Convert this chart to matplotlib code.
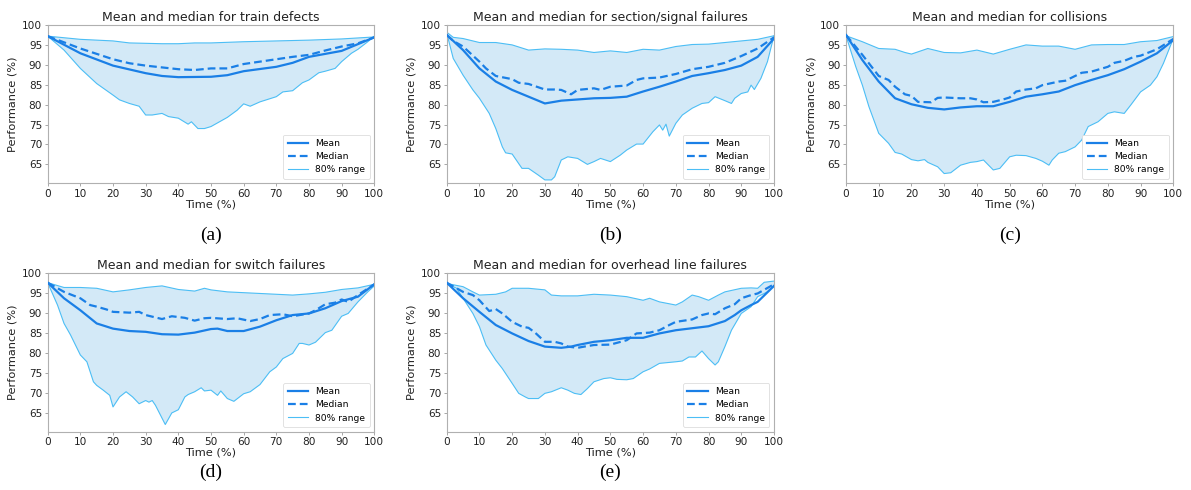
import numpy as np
import matplotlib
matplotlib.use("Agg")
import matplotlib.pyplot as plt

# ---------------- data ----------------
titles = ["Mean and median for train defects",
          "Mean and median for section/signal failures",
          "Mean and median for collisions",
          "Mean and median for switch failures",
          "Mean and median for overhead line failures"]
captions = ["(a)", "(b)", "(c)", "(d)", "(e)"]

# (a) train defects
a_mean_t = [0, 10, 20, 30, 35, 40, 50, 55, 60, 70, 75, 80, 90, 100]
a_mean_v = [97.2, 92.9, 89.8, 87.9, 87.2, 86.9, 87.0, 87.4, 88.4, 89.5, 90.5, 92.0, 93.5, 96.9]
a_med_t = [0, 10, 20, 25, 30, 40, 45, 50, 55, 60, 70, 75, 80, 85, 90, 95, 100]
a_med_v = [97.2, 94.1, 91.4, 90.4, 89.8, 88.9, 88.7, 89.1, 89.1, 90.2, 91.4, 92.0, 92.5, 93.6, 94.6, 95.4, 96.9]
a_up_t = [0, 10, 20, 25, 35, 40, 45, 50, 60, 70, 80, 90, 100]
a_up_v = [97.2, 96.4, 96.0, 95.5, 95.3, 95.3, 95.5, 95.5, 95.8, 96.0, 96.2, 96.5, 97.0]
a_lo_t = [0, 5, 10, 15, 20, 22, 25, 28, 30, 32, 35, 37, 40, 43, 44, 46, 48, 50, 55, 58, 60,
          62, 65, 70, 72, 75, 78, 80, 83, 85, 88, 90, 93, 95, 98, 100]
a_lo_v = [97.2, 93.7, 89.1, 85.3, 82.4, 81.2, 80.3, 79.6, 77.4, 77.4, 77.8, 77.0, 76.6, 75.1, 75.7,
          74.0, 74.0, 74.5, 76.8, 78.6, 80.2, 79.6, 80.7, 82.0, 83.2, 83.5, 85.5, 86.2, 88.0, 88.4,
          89.1, 90.8, 92.9, 93.9, 95.8, 97.2]

# (b) section/signal failures
b_mean_t = [0, 2, 5, 10, 15, 20, 25, 30, 35, 40, 45, 50, 55, 60, 65, 70, 75, 80, 85, 90, 95, 100]
b_mean_v = [97.5, 96.0, 93.7, 89.1, 85.8, 83.7, 82.0, 80.3, 81.0, 81.3, 81.6, 81.7, 82.0, 83.3,
            84.5, 85.8, 87.2, 87.9, 88.7, 89.8, 92.0, 96.6]
b_med_t = [0, 2, 5, 10, 12, 15, 20, 22, 25, 30, 33, 35, 38, 40, 45, 47, 50, 55, 58, 60, 65, 70,
           75, 80, 85, 90, 95, 100]
b_med_v = [97.5, 96.0, 94.6, 90.8, 89.1, 87.2, 86.4, 85.5, 85.2, 83.8, 83.8, 83.7, 82.6, 83.7,
           84.1, 83.7, 84.5, 84.8, 86.2, 86.6, 86.8, 87.7, 88.9, 89.5, 90.5, 92.2, 94.1, 96.9]
b_up_t = [0, 2, 5, 10, 15, 20, 25, 30, 35, 40, 45, 50, 55, 60, 65, 70, 75, 80, 85, 90, 95, 100]
b_up_v = [98.2, 96.9, 96.6, 95.6, 95.6, 95.0, 93.7, 94.0, 93.9, 93.7, 93.1, 93.5, 93.1, 93.9,
          93.7, 94.6, 95.1, 95.2, 95.6, 96.0, 96.4, 97.3]
b_lo_t = [0, 2, 5, 8, 10, 13, 15, 17, 18, 20, 23, 25, 28, 30, 32, 33, 35, 37, 40, 43, 45, 47, 50,
          53, 55, 58, 60, 63, 65, 66, 67, 68, 70, 72, 75, 78, 80, 82, 85, 87, 88, 90, 92, 93, 94,
          96, 98, 100]
b_lo_v = [98.0, 91.6, 87.4, 83.7, 81.6, 77.8, 74.0, 69.4, 67.9, 67.6, 64.0, 64.0, 62.3, 61.1,
          61.1, 61.9, 66.1, 66.9, 66.5, 65.0, 65.7, 66.5, 65.7, 67.3, 68.6, 70.1, 70.1, 73.2, 74.9,
          73.6, 75.1, 72.1, 75.3, 77.4, 79.1, 80.3, 80.5, 82.0, 81.0, 80.3, 81.6, 82.8, 83.2, 84.9,
          83.8, 86.6, 90.8, 97.3]

# (c) collisions
c_mean_t = [0, 5, 10, 15, 20, 25, 30, 35, 40, 45, 50, 55, 60, 65, 70, 75, 80, 85, 90, 95, 100]
c_mean_v = [97.5, 91.2, 85.8, 81.6, 80.1, 79.2, 78.8, 79.3, 79.6, 79.6, 80.7, 82.0, 82.6, 83.3,
            84.9, 86.2, 87.4, 88.9, 90.8, 92.9, 96.2]
c_med_t = [0, 5, 10, 13, 15, 18, 20, 22, 26, 28, 30, 35, 38, 40, 42, 45, 48, 50, 52, 55, 58, 60,
           65, 67, 70, 72, 75, 80, 82, 85, 88, 90, 95, 100]
c_med_v = [97.5, 92.5, 87.2, 86.2, 84.5, 82.6, 82.2, 80.7, 80.6, 81.7, 81.8, 81.6, 81.6, 81.3,
           80.6, 80.7, 81.3, 81.8, 83.3, 83.8, 84.1, 84.9, 85.8, 86.0, 87.2, 88.0, 88.3, 89.5,
           90.5, 91.0, 92.0, 92.3, 93.9, 96.5]
c_up_t = [0, 5, 10, 15, 18, 20, 25, 30, 35, 40, 45, 50, 55, 60, 65, 70, 75, 80, 85, 90, 95, 100]
c_up_v = [97.3, 95.8, 94.1, 93.9, 93.1, 92.7, 94.1, 93.1, 93.0, 93.7, 92.7, 93.9, 95.0, 94.7,
          94.7, 93.9, 95.0, 95.1, 95.1, 95.8, 96.1, 97.1]
c_lo_t = [0, 3, 5, 7, 10, 13, 15, 17, 20, 22, 24, 25, 28, 30, 32, 35, 38, 40, 42, 45, 47, 50, 52, 55,
          58, 60, 62, 63, 65, 67, 70, 72, 74, 77, 80, 82, 85, 87, 90, 93, 95, 97, 100]
c_lo_v = [97.3, 89.5, 84.9, 79.5, 72.8, 70.3, 68.0, 67.6, 66.2, 65.9, 66.2, 65.5, 64.4, 62.7, 62.9,
          64.8, 65.5, 65.7, 66.1, 63.6, 64.0, 66.9, 67.3, 67.2, 66.5, 65.8, 64.8, 66.1, 67.8, 68.2,
          69.4, 71.1, 74.5, 75.7, 77.8, 78.2, 77.8, 79.9, 83.2, 84.9, 87.0, 90.4, 96.6]

# (d) switch failures
d_mean_t = [0, 5, 10, 15, 20, 25, 30, 35, 40, 45, 50, 52, 55, 60, 65, 70, 75, 80, 85, 90, 95, 100]
d_mean_v = [97.5, 93.6, 90.6, 87.3, 86.0, 85.4, 85.2, 84.6, 84.5, 85.0, 85.9, 86.0, 85.4, 85.4,
            86.5, 88.1, 89.4, 89.8, 91.1, 92.9, 94.0, 97.1]
d_med_t = [0, 5, 10, 13, 15, 18, 20, 25, 28, 30, 35, 38, 42, 45, 48, 50, 55, 58, 62, 65, 68, 72,
           75, 80, 82, 85, 88, 90, 92, 95, 100]
d_med_v = [97.5, 95.2, 93.6, 91.9, 91.5, 90.8, 90.2, 90.0, 90.2, 89.4, 88.4, 89.1, 88.7, 88.0,
           88.6, 88.7, 88.4, 88.6, 87.9, 88.4, 89.4, 89.6, 89.1, 89.8, 90.6, 92.1, 92.5, 93.3,
           92.7, 94.4, 97.1]
d_up_t = [0, 5, 10, 15, 20, 25, 30, 35, 40, 45, 48, 50, 55, 60, 65, 70, 75, 80, 85, 90, 95, 100]
d_up_v = [97.5, 96.3, 96.3, 96.1, 95.2, 95.7, 96.3, 96.7, 95.8, 95.4, 96.1, 95.7, 95.2, 95.0,
          94.8, 94.6, 94.4, 94.7, 95.1, 95.8, 96.2, 97.1]
d_lo_t = [0, 3, 5, 7, 10, 12, 14, 15, 17, 19, 20, 22, 24, 26, 28, 30, 31, 32, 33, 34, 36, 38, 40,
          42, 43, 45, 47, 48, 50, 52, 53, 55, 57, 60, 62, 65, 68, 70, 72, 75, 77, 78, 80, 82, 85,
          87, 90, 92, 95, 98, 100]
d_lo_v = [97.5, 91.9, 87.3, 84.4, 79.4, 77.7, 72.7, 71.8, 70.6, 69.3, 66.4, 68.9, 70.2, 68.9,
          67.2, 68.0, 67.6, 68.0, 66.8, 65.2, 62.0, 64.9, 65.7, 68.9, 69.5, 70.2, 71.2, 70.4, 70.6,
          69.3, 70.4, 68.5, 67.8, 69.7, 70.2, 72.0, 75.2, 76.4, 78.5, 79.8, 82.3, 82.3, 81.9, 82.6,
          85.0, 85.6, 89.1, 89.8, 92.7, 95.2, 96.7]

# (e) overhead line failures
e_mean_t = [0, 5, 10, 15, 20, 25, 30, 35, 38, 40, 45, 50, 55, 60, 65, 70, 75, 80, 85, 88, 90, 93,
            95, 100]
e_mean_v = [97.5, 93.6, 90.2, 86.9, 84.8, 82.9, 81.5, 81.2, 81.5, 81.9, 82.7, 83.1, 83.7, 83.7,
            84.8, 85.6, 86.1, 86.6, 87.9, 89.4, 90.6, 91.9, 92.7, 96.7]
e_med_t = [0, 5, 8, 10, 13, 15, 17, 20, 23, 25, 27, 30, 33, 35, 37, 40, 42, 45, 50, 55, 58, 62,
           65, 68, 70, 75, 78, 80, 82, 85, 88, 90, 93, 95, 100]
e_med_v = [97.5, 95.2, 94.4, 93.1, 90.4, 90.9, 89.8, 87.7, 86.5, 86.2, 85.0, 82.7, 82.7, 82.3,
           81.5, 81.2, 81.5, 81.9, 82.0, 83.1, 84.8, 85.0, 85.6, 86.9, 87.7, 88.3, 89.4, 89.8,
           89.6, 91.1, 92.1, 93.6, 94.4, 94.8, 97.1]
e_up_t = [0, 5, 8, 10, 15, 18, 20, 25, 30, 32, 35, 40, 45, 50, 55, 60, 62, 65, 70, 72, 75, 77,
          80, 83, 85, 90, 93, 95, 97, 100]
e_up_v = [97.3, 96.5, 95.2, 94.4, 94.6, 95.2, 96.1, 96.1, 95.7, 94.4, 94.2, 94.2, 94.6, 94.4,
          94.0, 93.1, 93.6, 92.7, 91.9, 92.7, 94.4, 94.0, 93.1, 94.4, 95.2, 96.1, 96.2, 96.1,
          97.6, 97.9]
e_lo_t = [0, 3, 5, 8, 10, 12, 15, 17, 20, 22, 24, 25, 28, 30, 32, 35, 37, 39, 41, 43, 45, 48, 50,
          52, 55, 57, 60, 62, 65, 70, 72, 74, 76, 78, 80, 82, 83, 85, 87, 90, 93, 95, 98, 100]
e_lo_v = [97.3, 96.1, 93.6, 89.8, 86.5, 81.9, 78.1, 76.0, 72.3, 69.8, 68.9, 68.5, 68.5, 69.8,
          70.2, 71.2, 70.6, 69.8, 69.5, 71.0, 72.7, 73.5, 73.7, 73.3, 73.2, 73.5, 75.2, 75.9,
          77.3, 77.7, 77.9, 78.9, 78.9, 80.4, 78.5, 76.9, 77.7, 81.5, 85.6, 89.8, 91.5, 94.0,
          95.2, 96.7]

panels = [
    (a_mean_t, a_mean_v, a_med_t, a_med_v, a_up_t, a_up_v, a_lo_t, a_lo_v),
    (b_mean_t, b_mean_v, b_med_t, b_med_v, b_up_t, b_up_v, b_lo_t, b_lo_v),
    (c_mean_t, c_mean_v, c_med_t, c_med_v, c_up_t, c_up_v, c_lo_t, c_lo_v),
    (d_mean_t, d_mean_v, d_med_t, d_med_v, d_up_t, d_up_v, d_lo_t, d_lo_v),
    (e_mean_t, e_mean_v, e_med_t, e_med_v, e_up_t, e_up_v, e_lo_t, e_lo_v),
]

x_ticks = list(range(0, 101, 10))
y_ticks = list(range(65, 101, 5))

# ---------------- style ----------------
W, H = 1191, 490
fig = plt.figure(figsize=(W / 100, H / 100), dpi=100)

mean_col = "#1a7fe6"
band_col = "#4cbef5"
fill_col = "#d3e9f7"

# axes boxes in pixel coordinates: left, top, right, bottom
boxes = [
    (47.7, 25.0, 374.3, 183.5),
    (446.7, 25.0, 774.0, 183.5),
    (846.0, 25.0, 1173.3, 183.5),
    (47.7, 272.7, 374.3, 431.7),
    (446.7, 272.7, 774.0, 431.7),
]
caption_y = [235, 235, 235, 472, 472]

for i, (mt, mv, dt, dv, ut, uv, lt, lv) in enumerate(panels):
    l, t, r, b = boxes[i]
    ax = fig.add_axes([l / W, 1 - b / H, (r - l) / W, (b - t) / H])
    poly_x = np.concatenate([np.asarray(ut, float), np.asarray(lt, float)[::-1]])
    poly_y = np.concatenate([np.asarray(uv, float), np.asarray(lv, float)[::-1]])
    ax.fill(poly_x, poly_y, color=fill_col, lw=0, zorder=1)
    ax.plot(ut, uv, color=band_col, lw=0.8, zorder=2, label="80% range")
    ax.plot(lt, lv, color=band_col, lw=0.8, zorder=2)
    ax.plot(mt, mv, color=mean_col, lw=1.6, zorder=3, label="Mean")
    ax.plot(dt, dv, color=mean_col, lw=1.6, ls=(0, (3.5, 1.8)), zorder=3, label="Median")
    ax.set_xlim(0, 100)
    ax.set_ylim(60.2, 100)
    ax.set_xticks(x_ticks)
    ax.set_yticks(y_ticks)
    ax.tick_params(labelsize=7.6, length=2, width=0.6, pad=2, colors="#999999",
                   labelcolor="#222222")
    for s in ax.spines.values():
        s.set_color("#b0b0b0")
        s.set_linewidth(0.8)
    ax.set_xlabel("Time (%)", fontsize=8.2, labelpad=0, color="#222222")
    ax.set_ylabel("Performance (%)", fontsize=8.2, labelpad=3, color="#222222")
    ax.set_title(titles[i], fontsize=9.0, pad=3, color="#222222")
    h, lab = ax.get_legend_handles_labels()
    order = [1, 2, 0]
    leg = ax.legend([h[k] for k in order], [lab[k] for k in order], loc="lower right",
                    fontsize=6.6, frameon=True, handlelength=2.2, borderpad=0.5,
                    labelspacing=0.45, framealpha=1.0, fancybox=True)
    leg.get_frame().set_edgecolor("#dddddd")
    leg.get_frame().set_linewidth(0.6)
    cx = (l + r) / 2
    fig.text(cx / W, 1 - caption_y[i] / H, captions[i], ha="center", va="center",
             fontsize=14, family="Liberation Serif", color="black")

fig.savefig("out.png", dpi=100)
